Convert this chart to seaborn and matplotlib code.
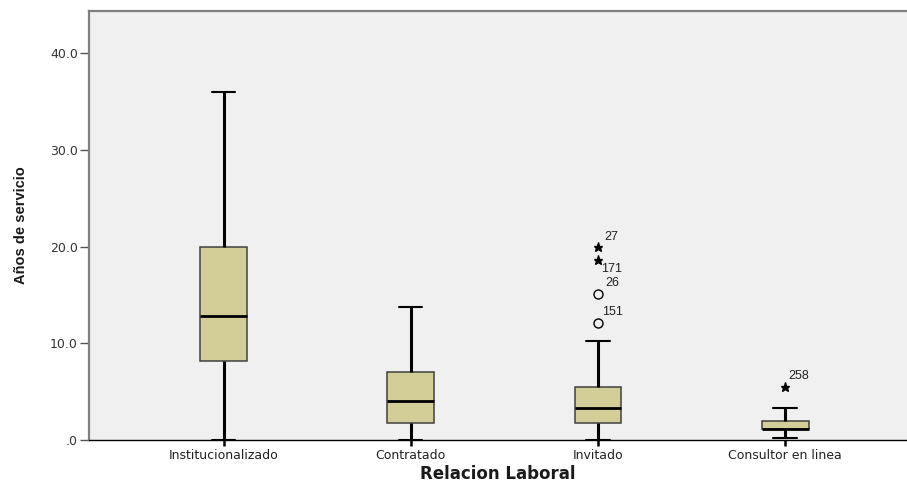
import numpy as np
import pandas as pd
import matplotlib
matplotlib.use('Agg')
import matplotlib.pyplot as plt
from matplotlib.ticker import FuncFormatter
import seaborn as sns

CATEGORIES = ['Institucionalizado', 'Contratado', 'Invitado', 'Consultor en linea']

# box summaries: whisker low, q1, median, q3, whisker high
WHISKER_LOW = [0.0, 0.0, 0.0, 0.2]
Q1 = [8.2, 1.8, 1.8, 1.1]
MEDIANS = [12.8, 4.0, 3.3, 1.1]
Q3 = [20.0, 7.0, 5.5, 2.0]
WHISKER_HIGH = [36.0, 13.7, 10.2, 3.3]

# outliers (circles) and extremes (stars), with their case numbers
OUTLIER_CATS = ['Invitado', 'Invitado', 'Invitado', 'Invitado', 'Consultor en linea']
OUTLIER_VALUES = [20.0, 18.6, 15.1, 12.1, 5.5]
OUTLIER_IDS = ['27', '171', '26', '151', '258']
OUTLIER_KIND = ['extreme', 'extreme', 'outlier', 'outlier', 'extreme']
# label offsets in pixels (style only)
LABEL_OFFSETS = [(6, 10), (3, -9), (7, 11), (4, 11), (3, 11)]

Y_TICKS = [0, 10, 20, 30, 40]

BOX_COLOR = '#d3ce98'
BG = '#f0f0f0'

# five values per group: percentiles 0/25/50/75/100 give exactly the summaries
rows = []
for i, cat in enumerate(CATEGORIES):
    for v in (WHISKER_LOW[i], Q1[i], MEDIANS[i], Q3[i], WHISKER_HIGH[i]):
        rows.append({'relacion': cat, 'anos': v})
df = pd.DataFrame(rows)

sns.set_style('white')
plt.rcParams['font.family'] = ['DejaVu Sans']

fig = plt.figure(figsize=(9.07, 4.84), dpi=100)
ax = fig.add_axes([89 / 907, 44 / 484, 818 / 907, 429.5 / 484])
ax.set_facecolor(BG)

sns.boxplot(
    data=df, x='relacion', y='anos', order=CATEGORIES,
    whis=(0, 100), width=0.25, color=BOX_COLOR, saturation=1,
    linecolor='#404040', linewidth=1.1, fliersize=0, ax=ax,
    whiskerprops={'color': 'black', 'linewidth': 2.2},
    capprops={'color': 'black', 'linewidth': 1.5},
    medianprops={'color': 'black', 'linewidth': 2.0},
)

# outliers and extremes
for cat, val, lab, kind, (dx, dy) in zip(OUTLIER_CATS, OUTLIER_VALUES, OUTLIER_IDS,
                                        OUTLIER_KIND, LABEL_OFFSETS):
    xpos = CATEGORIES.index(cat)
    if kind == 'outlier':
        ax.plot(xpos, val, marker='o', markersize=6.5, markerfacecolor='none',
                markeredgecolor='black', markeredgewidth=1.0, linestyle='none')
    else:
        ax.plot(xpos, val, marker='*', markersize=6.5, color='black', linestyle='none')
    ax.annotate(lab, (xpos, val), xytext=(dx, dy), textcoords='offset pixels',
                ha='left', va='center', fontsize=9, color='#222222',
                family='Liberation Sans')

ax.set_xlim(-0.7185, 3.651)
ax.set_ylim(0, 44.4)
ax.set_yticks(Y_TICKS)
ax.yaxis.set_major_formatter(FuncFormatter(lambda v, p: '.0' if v == 0 else f'{v:.1f}'))

ax.set_xlabel('Relacion Laboral', fontsize=12, fontweight='bold', color='#1a1a1a', labelpad=2)
ax.set_ylabel('Años de servicio', fontsize=10.5, fontweight='bold', color='#1a1a1a',
              labelpad=16, family=['Liberation Sans Narrow', 'Liberation Sans'])

ax.tick_params(axis='y', direction='out', length=6.5, width=1.0, color='#555555',
               labelsize=9, labelcolor='#333333', pad=1.5, left=True)
ax.tick_params(axis='x', direction='out', length=4.5, width=1.8, color='black',
               labelsize=9, labelcolor='#222222', pad=2, bottom=True)

for side in ('left', 'top'):
    ax.spines[side].set_color('#808080')
    ax.spines[side].set_linewidth(1.6)
ax.spines['bottom'].set_color('black')
ax.spines['bottom'].set_linewidth(1.0)
ax.spines['right'].set_visible(False)

fig.savefig('out.png', dpi=100, facecolor='white')
